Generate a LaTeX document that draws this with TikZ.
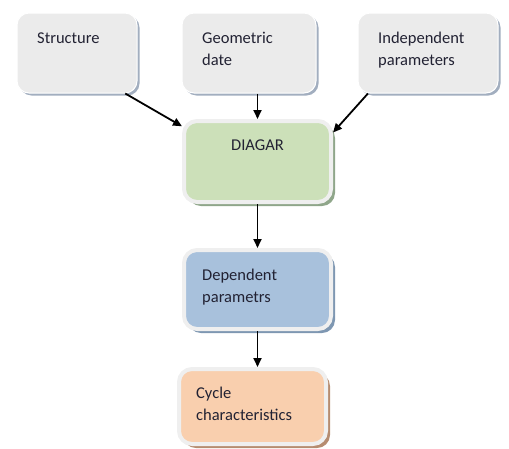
\documentclass[tikz,border=0pt]{standalone}
\usepackage{fontspec}
\setmainfont{Carlito}
\usetikzlibrary{shadows,arrows.meta,calc}
\definecolor{topfill}{HTML}{EBEBEB}
\definecolor{topshadow}{HTML}{A2AEBF}
\definecolor{rim}{HTML}{EFEFEF}
\definecolor{greenfill}{HTML}{CCE0B9}
\definecolor{greenshadow}{HTML}{8FA68A}
\definecolor{bluefill}{HTML}{A8C1DC}
\definecolor{blueshadow}{HTML}{7E97B2}
\definecolor{orangefill}{HTML}{F9CFAE}
\definecolor{orangeshadow}{HTML}{B68C70}
\definecolor{txt}{HTML}{222233}
\tikzset{
  topbox/.style={draw=white, line width=1pt, fill=topfill, rounded corners=12pt,
    inner sep=0pt, drop shadow={shadow xshift=2.5pt, shadow yshift=-2.5pt, fill=topshadow, opacity=1}},
  lowbox/.style 2 args={draw=rim, line width=4pt, fill=#1, rounded corners=13pt,
    inner sep=0pt, drop shadow={shadow xshift=4pt, shadow yshift=-4pt, fill=#2, opacity=1}},
  lbl/.style={anchor=base west, inner sep=0pt, text=txt, font=\fontsize{16.5}{22}\selectfont, align=left},
  conn/.style={line width=1.8pt, -{Triangle[length=9pt,width=8pt]}}
}
\begin{document}
\begin{tikzpicture}[x=1pt,y=-1pt]
\useasboundingbox (0,0) rectangle (509,448);
% top boxes
\node[topbox, minimum width=120pt, minimum height=80pt] (s) at (77,53) {};
\node[topbox, minimum width=134pt, minimum height=80pt] (g) at (249,53) {};
\node[topbox, minimum width=140pt, minimum height=80pt] (i) at (428,53) {};
% lower boxes
\node[lowbox={greenfill}{greenshadow}, minimum width=147pt, minimum height=81pt] (d) at (257.5,161.5) {};
\node[lowbox={bluefill}{blueshadow}, minimum width=147pt, minimum height=79pt] (p) at (257.5,289.5) {};
\node[lowbox={orangefill}{orangeshadow}, minimum width=147pt, minimum height=75pt] (c) at (252.5,406.5) {};
% texts (base anchor = baseline of last line)
\node[lbl] (st) at (37,43) {Structure};
\node[lbl] (gt) at (202,65) {Geometric\\date};
\node[lbl] (it) at (378,65) {Independent\\parameters};
\node[lbl, anchor=base] (dt) at (257.5,150) {DIAGAR};
\node[lbl] (pt) at (202,302) {Dependent\\parametrs};
\node[lbl] (ct) at (196,420) {Cycle\\characteristics};
% connectors
\draw[conn] (s.-40) -- (d.155);
\draw[conn] (g.south -| d.north) -- (d.north);
\draw[conn] (i.214) -- (d.21);
\draw[conn] (d.south) -- (p.north);
\draw[conn] (p.south) -- (p.south |- c.north);
\end{tikzpicture}
\end{document}
